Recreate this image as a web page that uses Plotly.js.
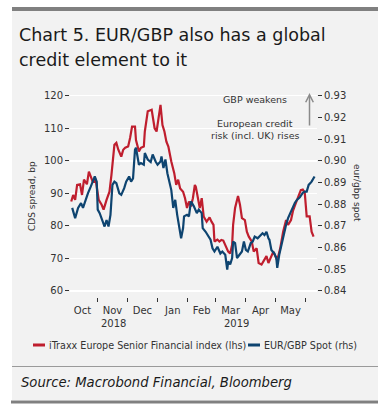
<!DOCTYPE html>
<html>
<head>
<meta charset="utf-8">
<script src="https://cdn.plot.ly/plotly-3.0.1.min.js"></script>
<style>html,body{margin:0;padding:0;background:#fff;}#chart{width:390px;height:408px;}</style>
</head>
<body>
<div id="chart"></div>
<script>
// iTraxx Europe Senior Financial index (lhs, bp)
const itraxxDates = ['2018-10-05','2018-10-07','2018-10-09','2018-10-11','2018-10-14','2018-10-16','2018-10-18','2018-10-21','2018-10-23','2018-10-25','2018-10-27','2018-10-30',
 '2018-11-02','2018-11-05','2018-11-07','2018-11-10','2018-11-13','2018-11-15','2018-11-18','2018-11-20','2018-11-22','2018-11-25','2018-11-27','2018-11-29',
 '2018-12-02','2018-12-04','2018-12-06','2018-12-09','2018-12-10','2018-12-13','2018-12-15','2018-12-18','2018-12-19','2018-12-22','2018-12-26','2018-12-29','2018-12-31',
 '2019-01-02','2019-01-04','2019-01-06','2019-01-08','2019-01-10','2019-01-12','2019-01-15','2019-01-18','2019-01-20','2019-01-22','2019-01-24','2019-01-27','2019-01-29','2019-01-31',
 '2019-02-02','2019-02-04','2019-02-06','2019-02-08','2019-02-09','2019-02-11','2019-02-13','2019-02-15','2019-02-17','2019-02-20','2019-02-23','2019-02-25','2019-02-27','2019-02-28',
 '2019-03-03','2019-03-05','2019-03-07','2019-03-09','2019-03-12','2019-03-14','2019-03-16','2019-03-18','2019-03-19','2019-03-21','2019-03-24','2019-03-26','2019-03-28','2019-03-31',
 '2019-04-02','2019-04-04','2019-04-07','2019-04-09','2019-04-12','2019-04-14','2019-04-17','2019-04-19','2019-04-22','2019-04-24','2019-04-26','2019-04-29',
 '2019-05-02','2019-05-04','2019-05-06','2019-05-09','2019-05-12','2019-05-14','2019-05-17','2019-05-19','2019-05-22','2019-05-24','2019-05-27','2019-05-29','2019-05-31',
 '2019-06-02','2019-06-05','2019-06-07','2019-06-09'];
const itraxxValues = [87.5,89.5,88,92.6,92.8,89.5,94.2,92.8,96.7,95,93.5,94,
 88,86.5,85,88,90.5,95.7,104.9,105.5,103.4,101.3,103.4,104,
 104.4,107,110.5,110.5,106.4,102.9,104,104.4,109,115.2,115.7,110,109,
 113.1,117.2,111,109,105.9,104.4,99.8,96.2,92.6,94.2,91.5,90.5,88.5,85.5,
 87.5,86,88.5,92.6,92,88.5,85.5,88.5,82.9,81.3,82.6,81.3,80.3,75.2,
 75.8,75.2,75.7,75.5,73.1,72.1,71.5,74.2,80.3,85.5,89.2,86.5,82.4,81.8,
 78.2,76.7,75.2,72.1,73.1,68.6,68.1,69.1,70.7,68.6,70.1,72.1,
 70.1,70.7,73.1,78.2,81.8,80.3,81.8,84.6,87.1,88.5,91,91.2,90.2,
 82.9,82.9,78.2,76.7];

// EUR/GBP spot (rhs)
const eurgbpDates = ['2018-10-06','2018-10-09','2018-10-12','2018-10-15','2018-10-17','2018-10-20','2018-10-22','2018-10-25','2018-10-27','2018-10-29','2018-10-31',
 '2018-11-01','2018-11-03','2018-11-06','2018-11-08','2018-11-10','2018-11-12','2018-11-14','2018-11-16','2018-11-18','2018-11-20','2018-11-23','2018-11-25','2018-11-28','2018-11-30',
 '2018-12-03','2018-12-05','2018-12-07','2018-12-09','2018-12-10','2018-12-13','2018-12-15','2018-12-18','2018-12-19','2018-12-22','2018-12-25','2018-12-27','2018-12-30',
 '2019-01-01','2019-01-04','2019-01-05','2019-01-07','2019-01-09','2019-01-11','2019-01-14','2019-01-15','2019-01-17','2019-01-19','2019-01-21','2019-01-23','2019-01-25','2019-01-27','2019-01-28','2019-01-31',
 '2019-02-02','2019-02-04','2019-02-07','2019-02-10','2019-02-12','2019-02-15','2019-02-16','2019-02-19','2019-02-22','2019-02-24','2019-02-26','2019-02-28',
 '2019-03-03','2019-03-06','2019-03-08','2019-03-11','2019-03-13','2019-03-14','2019-03-16','2019-03-18','2019-03-19','2019-03-21','2019-03-23','2019-03-26','2019-03-28','2019-03-30',
 '2019-04-01','2019-04-03','2019-04-06','2019-04-08','2019-04-10','2019-04-13','2019-04-15','2019-04-18','2019-04-20','2019-04-22','2019-04-24','2019-04-25','2019-04-27','2019-04-30',
 '2019-05-02','2019-05-03','2019-05-05','2019-05-08','2019-05-10','2019-05-12','2019-05-14','2019-05-17','2019-05-19','2019-05-21','2019-05-23','2019-05-26','2019-05-29','2019-05-31',
 '2019-06-02','2019-06-04','2019-06-07','2019-06-10'];
const eurgbpValues = [0.8783,0.8736,0.8783,0.8805,0.8783,0.8828,0.885,0.8882,0.8904,0.8928,0.8904,
 0.8775,0.8759,0.872,0.8697,0.8727,0.8697,0.8751,0.8889,0.8904,0.8897,0.885,0.8843,0.8874,0.8904,
 0.8928,0.8904,0.8919,0.9051,0.906,0.8982,0.899,0.8982,0.9036,0.9006,0.8994,0.9029,0.8997,
 0.8982,0.8997,0.902,0.8967,0.9006,0.8943,0.8889,0.8865,0.8783,0.882,0.8751,0.869,0.8643,0.869,0.8744,0.8751,
 0.8744,0.8813,0.879,0.8759,0.8775,0.8759,0.869,0.8673,0.8651,0.8636,0.8597,0.8582,
 0.8604,0.8573,0.8582,0.8567,0.8498,0.8537,0.8522,0.8552,0.8628,0.8621,0.8552,0.8573,0.8582,0.8628,
 0.8589,0.8582,0.8621,0.8628,0.8651,0.8643,0.8651,0.8666,0.8658,0.8673,0.8643,0.8636,0.8589,0.8573,
 0.8552,0.8507,0.8567,0.8628,0.8673,0.8705,0.8736,0.8769,0.8783,0.8807,0.882,0.8832,0.8852,0.8858,
 0.8858,0.8889,0.8904,0.8928];

const leftTicks = [60,70,80,90,100,110,120];
const rightTicks = [0.84,0.85,0.86,0.87,0.88,0.89,0.90,0.91,0.92,0.93];
const seriesNames = ['iTraxx Europe Senior Financial index (lhs)','EUR/GBP Spot (rhs)'];
const seriesColors = ['#bf1e2e','#0e4470'];

const W = 390, H = 408, L = 70, R = 73, T = 88, B = 111;
const pw = W - L - R, ph = H - T - B;
const px = x => (x - L) / pw;
const py = y => (H - B - y) / ph;

const font = 'DejaVu Sans, sans-serif';
const txt = '#333333';

const traces = [
  {x: itraxxDates, y: itraxxValues, name: seriesNames[0], type: 'scatter', mode: 'lines',
   line: {color: seriesColors[0], width: 2.2}, yaxis: 'y', showlegend: false},
  {x: eurgbpDates, y: eurgbpValues, name: seriesNames[1], type: 'scatter', mode: 'lines',
   line: {color: seriesColors[1], width: 2.2}, yaxis: 'y2', showlegend: false}
];

const layout = {
  width: W, height: H,
  margin: {l: L, r: R, t: T, b: B, pad: 0},
  paper_bgcolor: '#ffffff',
  plot_bgcolor: 'rgba(0,0,0,0)',
  font: {family: font, size: 10, color: txt},
  xaxis: {
    type: 'date', range: ['2018-10-03 18:00', '2019-06-12 12:00'],
    tick0: '2018-10-01', dtick: 'M1', tickformat: '%b', ticklabelmode: 'period',
    ticks: 'outside', ticklen: 4, tickwidth: 1, tickcolor: '#333',
    showgrid: false, zeroline: false, showline: false,
    tickfont: {family: font, size: 10, color: txt}
  },
  yaxis: {
    range: [58.154, 122.37], tickvals: leftTicks,
    ticks: 'outside', ticklen: 4, tickwidth: 1, tickcolor: '#333',
    showgrid: true, gridcolor: '#ffffff', gridwidth: 1.5,
    zeroline: false, showline: false,
    tickfont: {family: font, size: 10, color: txt}
  },
  yaxis2: {
    overlaying: 'y', side: 'right',
    range: [0.83723, 0.93356], tickvals: rightTicks, tickformat: '.2f',
    ticks: 'outside', ticklen: 4, tickwidth: 1, tickcolor: '#333',
    showgrid: false, zeroline: false, showline: false,
    tickfont: {family: font, size: 10, color: txt}
  },
  shapes: [
    {type: 'rect', xref: 'paper', yref: 'paper', x0: px(12), x1: px(378), y0: py(400), y1: py(11),
     fillcolor: '#f2f2f2', line: {width: 0}, layer: 'below'},
    {type: 'line', xref: 'paper', yref: 'paper', x0: px(12), x1: px(378), y0: py(9), y1: py(9),
     line: {color: '#808080', width: 4}},
    {type: 'line', xref: 'paper', yref: 'paper', x0: px(12), x1: px(378), y0: py(366.5), y1: py(366.5),
     line: {color: '#9a9a9a', width: 1}},
    {type: 'line', xref: 'paper', yref: 'paper', x0: px(11), x1: px(378), y0: py(402), y1: py(402),
     line: {color: '#808080', width: 3}},
    {type: 'line', xref: 'paper', yref: 'paper', x0: px(33), x1: px(45), y0: py(345), y1: py(345),
     line: {color: seriesColors[0], width: 3}},
    {type: 'line', xref: 'paper', yref: 'paper', x0: px(248), x1: px(260), y0: py(345), y1: py(345),
     line: {color: seriesColors[1], width: 3}}
  ],
  annotations: [
    {xref: 'paper', yref: 'paper', x: px(17), y: py(35), xanchor: 'left', yanchor: 'middle', showarrow: false,
     text: 'Chart 5. EUR/GBP also has a global', font: {family: font, size: 17.5, color: '#1a1a1a'}},
    {xref: 'paper', yref: 'paper', x: px(17), y: py(60), xanchor: 'left', yanchor: 'middle', showarrow: false,
     text: 'credit element to it', font: {family: font, size: 17.5, color: '#1a1a1a'}},
    {xref: 'paper', yref: 'paper', x: px(255), y: py(99), xanchor: 'center', yanchor: 'middle', showarrow: false,
     text: 'GBP weakens', font: {family: font, size: 9.5, color: txt}},
    {xref: 'paper', yref: 'paper', x: px(255), y: py(123), xanchor: 'center', yanchor: 'middle', showarrow: false,
     text: 'European credit', font: {family: font, size: 9.5, color: txt}},
    {xref: 'paper', yref: 'paper', x: px(255), y: py(135), xanchor: 'center', yanchor: 'middle', showarrow: false,
     text: 'risk (incl. UK) rises', font: {family: font, size: 9.5, color: txt}},
    {xref: 'paper', yref: 'paper', x: px(309.5), y: py(93), ax: 0, ay: 34, axref: 'pixel', ayref: 'pixel',
     showarrow: true, arrowhead: 5, arrowsize: 1, arrowwidth: 1.5, arrowcolor: '#8a8a8a', text: ''},
    {xref: 'paper', yref: 'paper', x: px(32), y: py(196), xanchor: 'center', yanchor: 'middle', showarrow: false,
     textangle: -90, text: 'CDS spread, bp', font: {family: font, size: 9, color: txt}},
    {xref: 'paper', yref: 'paper', x: px(357), y: py(193), xanchor: 'center', yanchor: 'middle', showarrow: false,
     textangle: 90, text: 'eur/gbp spot', font: {family: font, size: 9, color: txt}},
    {xref: 'paper', yref: 'paper', x: px(113), y: py(323), xanchor: 'center', yanchor: 'middle', showarrow: false,
     text: '2018', font: {family: font, size: 10, color: txt}},
    {xref: 'paper', yref: 'paper', x: px(236.7), y: py(323), xanchor: 'center', yanchor: 'middle', showarrow: false,
     text: '2019', font: {family: font, size: 10, color: txt}},
    {xref: 'paper', yref: 'paper', x: px(47), y: py(345), xanchor: 'left', yanchor: 'middle', showarrow: false,
     text: seriesNames[0], font: {family: font, size: 9.6, color: txt}},
    {xref: 'paper', yref: 'paper', x: px(262), y: py(345), xanchor: 'left', yanchor: 'middle', showarrow: false,
     text: seriesNames[1], font: {family: font, size: 9.6, color: txt}},
    {xref: 'paper', yref: 'paper', x: px(19), y: py(382), xanchor: 'left', yanchor: 'middle', showarrow: false,
     text: '<i>Source: Macrobond Financial, Bloomberg</i>', font: {family: font, size: 13.2, color: '#1a1a1a'}}
  ]
};

Plotly.newPlot('chart', traces, layout, {staticPlot: true, displayModeBar: false});
</script>
</body>
</html>
